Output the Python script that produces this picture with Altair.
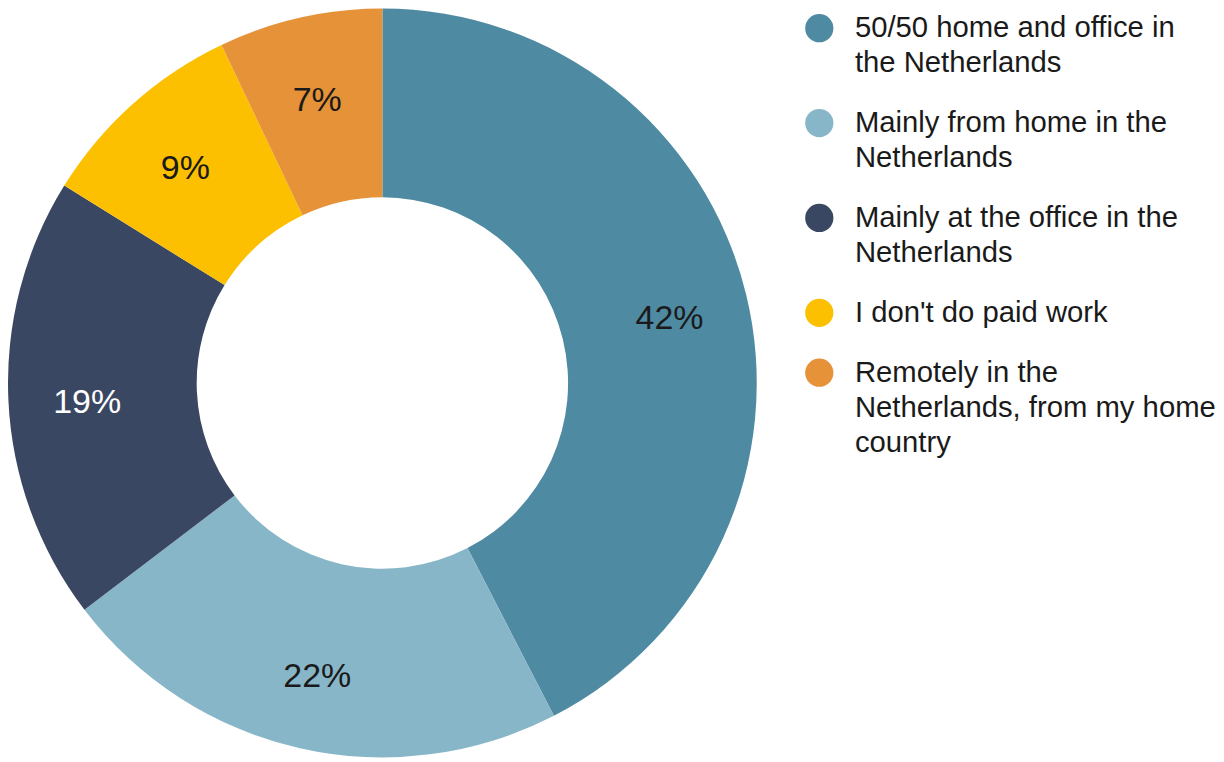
import json
import altair as alt
import pandas as pd

categories = [
    "50/50 home and office in the Netherlands",
    "Mainly from home in the Netherlands",
    "Mainly at the office in the Netherlands",
    "I don't do paid work",
    "Remotely in the Netherlands, from my home country",
]
values = [42, 22, 19, 9, 7]
legend_lines = [
    ["50/50 home and office in", "the Netherlands"],
    ["Mainly from home in the", "Netherlands"],
    ["Mainly at the office in the", "Netherlands"],
    ["I don't do paid work"],
    ["Remotely in the", "Netherlands, from my home", "country"],
]
colors = ["#4f8aa3", "#88b6c9", "#3a4762", "#fcc000", "#e59238"]

df = pd.DataFrame({"category": categories, "value": values, "idx": list(range(len(categories)))})

# multi-line legend labels
expr = "datum.label"
for cat, lines in reversed(list(zip(categories, legend_lines))):
    expr = f"datum.label == {json.dumps(cat)} ? {json.dumps(lines)} : ({expr})"

FONT = "Liberation Sans"

base = alt.Chart(df).encode(
    theta=alt.Theta("value:Q", stack=True),
    order=alt.Order("idx:Q"),
)

arcs = base.mark_arc(innerRadius=186, outerRadius=375).encode(
    color=alt.Color(
        "category:N",
        sort=categories,
        scale=alt.Scale(domain=categories, range=colors),
        legend=alt.Legend(
            title=None,
            orient="none",
            legendX=798,
            legendY=5,
            symbolType="circle",
            symbolSize=800,
            symbolStrokeWidth=0,
            labelFont=FONT,
            labelFontSize=29.3,
            labelColor="#1a1a1a",
            labelLimit=420,
            labelOffset=21,
            labelBaseline="top",
            rowPadding=30,
            padding=0,
            labelExpr=expr,
        ),
    )
)

labels = base.mark_text(radius=296, font=FONT, fontSize=34, dy=6).encode(
    text=alt.Text("pct:N"),
    color=alt.condition(
        alt.datum.category == "Mainly at the office in the Netherlands",
        alt.value("#ffffff"),
        alt.value("#1a1a1a"),
    ),
).transform_calculate(pct="datum.value + '%'")

chart = (
    alt.layer(arcs, labels)
    .properties(width=750, height=750, padding=0)
    .configure_view(stroke=None)
    .configure(background="#ffffff", style={"guide-label": {"lineHeight": 35, "dy": -14}})
)

chart.save("out.html", embed_options={"renderer": "svg", "actions": False})
